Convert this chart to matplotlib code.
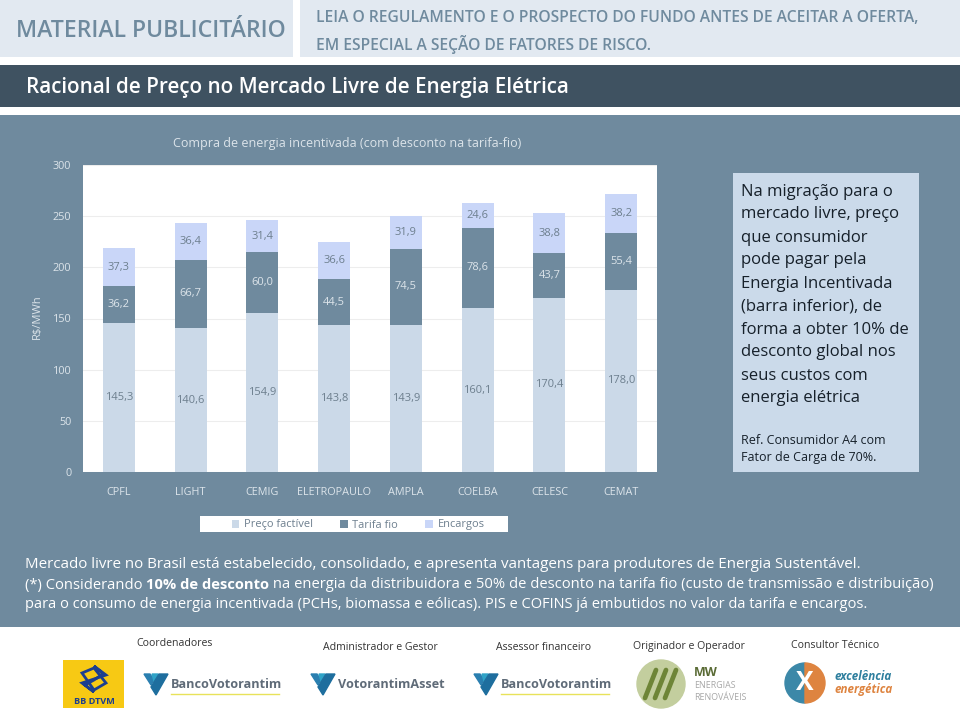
import matplotlib
matplotlib.use("Agg")
import matplotlib.pyplot as plt
from matplotlib.patches import Rectangle, Polygon, Circle, Wedge

W, H = 960, 710

# chart data
categories = ["CPFL", "LIGHT", "CEMIG", "ELETROPAULO", "AMPLA", "COELBA", "CELESC", "CEMAT"]
preco = [145.3, 140.6, 154.9, 143.8, 143.9, 160.1, 170.4, 178.0]
tarifa = [36.2, 66.7, 60.0, 44.5, 74.5, 78.6, 43.7, 55.4]
encargos = [37.3, 36.4, 31.4, 36.6, 31.9, 24.6, 38.8, 38.2]
y_ticks = [0, 50, 100, 150, 200, 250, 300]

box_lines = ["Na migração para o", "mercado livre, preço", "que consumidor", "pode pagar pela",
             "Energia Incentivada", "(barra inferior), de", "forma a obter 10% de",
             "desconto global nos", "seus custos com", "energia elétrica"]
ref_lines = ["Ref. Consumidor A4 com", "Fator de Carga de 70%."]

C_SLATE = "#6F8A9E"
C_DARK = "#3F5261"
C_HEAD = "#E2E9F1"
C_LIGHT = "#CBD9E8"
C_TOP = "#C9D6F8"
C_BOX = "#CBDAEA"
C_GRID = "#EDEDED"
C_LABEL = "#6D7F8E"
C_TICK = "#DCE4EA"

plt.rcParams["font.family"] = ["Open Sans", "DejaVu Sans"]

fig = plt.figure(figsize=(W / 100, H / 100), dpi=100, facecolor="white")

# page in pixel coords
bg = fig.add_axes([0, 0, 1, 1], zorder=0)
bg.set_xlim(0, W)
bg.set_ylim(H, 0)
bg.axis("off")


def rect(x0, y0, x1, y1, color, z=1):
    bg.add_patch(Rectangle((x0, y0), x1 - x0, y1 - y0, facecolor=color, edgecolor="none", zorder=z))


def label(x, y, s, size, color="#333333", **kw):
    kw.setdefault("va", "center")
    return bg.text(x, y, s, fontsize=size, color=color, **kw)


rect(0, 0, 293, 57, C_HEAD)
rect(300, 0, W, 57, C_HEAD)
rect(0, 65, W, 107, C_DARK)
rect(0, 115, W, 627, C_SLATE)
rect(733, 173, 919, 472, C_BOX)
rect(200, 516, 508, 532, "white")

label(16, 31, "MATERIAL PUBLICITÁRIO", 16.6, C_SLATE, fontweight="semibold")
label(316, 17.5, "LEIA O REGULAMENTO E O PROSPECTO DO FUNDO ANTES DE ACEITAR A OFERTA,", 11.25, C_SLATE, fontweight="semibold")
label(316, 44, "EM ESPECIAL A SEÇÃO DE FATORES DE RISCO.", 11.25, C_SLATE, fontweight="semibold")
label(26, 88, "Racional de Preço no Mercado Livre de Energia Elétrica", 14.85, "white", fontweight="semibold")
label(173, 143, "Compra de energia incentivada (com desconto na tarifa-fio)", 9, C_TICK)
label(37, 317, "R$/MWh", 8, C_TICK, rotation=90, ha="center")

for i, s in enumerate(box_lines):
    label(741, 191.5 + i * 23, s, 11.95, "#16202A")
for i, s in enumerate(ref_lines):
    label(741, 440.5 + i * 17.5, s, 9, "#16202A")

# bottom paragraph
label(25, 564.5, "Mercado livre no Brasil está estabelecido, consolidado, e apresenta vantagens para produtores de Energia Sustentável.", 10.9, "white")
label(25, 605, "para o consumo de energia incentivada (PCHs, biomassa e eólicas). PIS e COFINS já embutidos no valor da tarifa e encargos.", 10.55, "white")
# mixed weight line, each piece starts where the last one ended
renderer = fig.canvas.get_renderer()
x_pos = 25
for s, w in [("(*) Considerando ", "normal"), ("10% de desconto", "bold"),
             (" na energia da distribuidora e 50% de desconto na tarifa fio (custo de transmissão e distribuição)", "normal")]:
    t = label(x_pos, 585, s.replace(" ", "\u00a0"), 10.65, "white", fontweight=w)
    bb = t.get_window_extent(renderer)
    x_pos += bb.width

# footer captions
label(136, 644, "Coordenadores", 7.6)
label(323, 647, "Administrador e Gestor", 7.6)
label(496, 647, "Assessor financeiro", 7.6)
label(633, 647, "Originador e Operador", 7.6)
label(791, 646, "Consultor Técnico", 7.6)


def votorantim(x, name, underline):
    # little V mark + wordmark
    y = 674
    bg.add_patch(Polygon([(x, y), (x + 6, y), (x + 10, y + 6), (x + 7, y + 11)], color="#2A7FB0", zorder=2))
    bg.add_patch(Polygon([(x + 8, y), (x + 14, y), (x + 10, y + 7)], color="#2FA3C7", zorder=2))
    bg.add_patch(Polygon([(x + 15, y), (x + 24, y), (x + 12, y + 21), (x + 7, y + 13)], color="#1E6E9E", zorder=2))
    label(x + 27, y + 11, name, 9.05, "#5F6B78", fontweight="bold")
    if underline:
        bg.plot([x + 27, x + 135], [y + 20, y + 20], color="#E8E25A", lw=1, zorder=2)


# BB DTVM logo
rect(63, 660, 124, 708, "#F7C914", 2)
bg.add_patch(Polygon([(94, 666), (106, 675), (82, 683), (94, 692), (85, 685), (94, 680), (103, 674)],
                     closed=True, facecolor="#1D3F8F", edgecolor="#1D3F8F", lw=2, zorder=3))
bg.add_patch(Polygon([(82, 673), (94, 668), (106, 683), (94, 690)], closed=True, facecolor="none",
                     edgecolor="#1D3F8F", lw=2, zorder=3))
label(94, 701, "BB DTVM", 6.6, "#1D3F8F", fontweight="bold", ha="center")

votorantim(144, "BancoVotorantim", True)
votorantim(311, "VotorantimAsset", False)
votorantim(474, "BancoVotorantim", True)

# MW logo
bg.add_patch(Circle((661, 684), 24, color="#C3CE9E", zorder=2))
for dx in (-11, -1, 9):
    bg.plot([661 + dx - 5, 661 + dx + 6], [698, 670], color="#6E8537", lw=3.4, zorder=3, solid_capstyle="round")
label(694, 673, "MW", 9, "#5A6B35", fontweight="bold")
label(694, 686, "ENERGIAS", 6.4, "#A8A8A8")
label(694, 697, "RENOVÁVEIS", 6.4, "#A8A8A8")

# excelencia logo
bg.add_patch(Wedge((805, 683), 20, 90, 270, color="#3C88A8", zorder=2))
bg.add_patch(Wedge((805, 683), 20, 270, 90, color="#DE8440", zorder=2))
label(805, 683, "X", 19, "white", fontweight="bold", ha="center", zorder=3)
label(834, 676, "excelência", 8.4, "#2E7F9E", fontweight="bold", style="italic")
label(834, 689, "energética", 8.4, "#DE8440", fontweight="bold", style="italic")

# chart
ax = fig.add_axes([83 / W, 1 - 472 / H, (657 - 83) / W, (472 - 165) / H], zorder=2)
ax.set_facecolor("white")
x = list(range(len(categories)))
bottom2 = [a + b for a, b in zip(preco, tarifa)]
width = 0.445
b1 = ax.bar(x, preco, width, color=C_LIGHT, label="Preço factível", zorder=3)
b2 = ax.bar(x, tarifa, width, bottom=preco, color=C_SLATE, label="Tarifa fio", zorder=3)
b3 = ax.bar(x, encargos, width, bottom=bottom2, color=C_TOP, label="Encargos", zorder=3)


def fmt(v):
    return f"{v:.1f}".replace(".", ",")


ax.bar_label(b1, labels=[fmt(v) for v in preco], label_type="center", fontsize=8, color=C_LABEL, zorder=4)
ax.bar_label(b2, labels=[fmt(v) for v in tarifa], label_type="center", fontsize=8, color=C_TICK, zorder=4)
ax.bar_label(b3, labels=[fmt(v) for v in encargos], label_type="center", fontsize=8, color=C_LABEL, zorder=4)

ax.set_xlim(-0.5, 7.5)
ax.set_ylim(0, 300)
ax.set_yticks(y_ticks)
ax.set_xticks(x, categories)
ax.grid(axis="y", color=C_GRID, lw=0.8, zorder=0)
ax.tick_params(axis="both", length=0, labelsize=7.8, labelcolor=C_TICK)
ax.tick_params(axis="x", pad=11)
ax.tick_params(axis="y", pad=8.5)
for sp in ax.spines.values():
    sp.set_visible(False)

leg = fig.legend(handles=[b1, b2, b3], loc="center", ncol=3, frameon=False,
                 bbox_to_anchor=(358 / W, 1 - 525 / H), fontsize=7.9, labelcolor=C_LABEL,
                 handlelength=0.7, handleheight=0.7, handletextpad=0.4, columnspacing=2.5,
                 borderpad=0, borderaxespad=0)
leg.set_zorder(5)

fig.savefig("out.png", dpi=100)
